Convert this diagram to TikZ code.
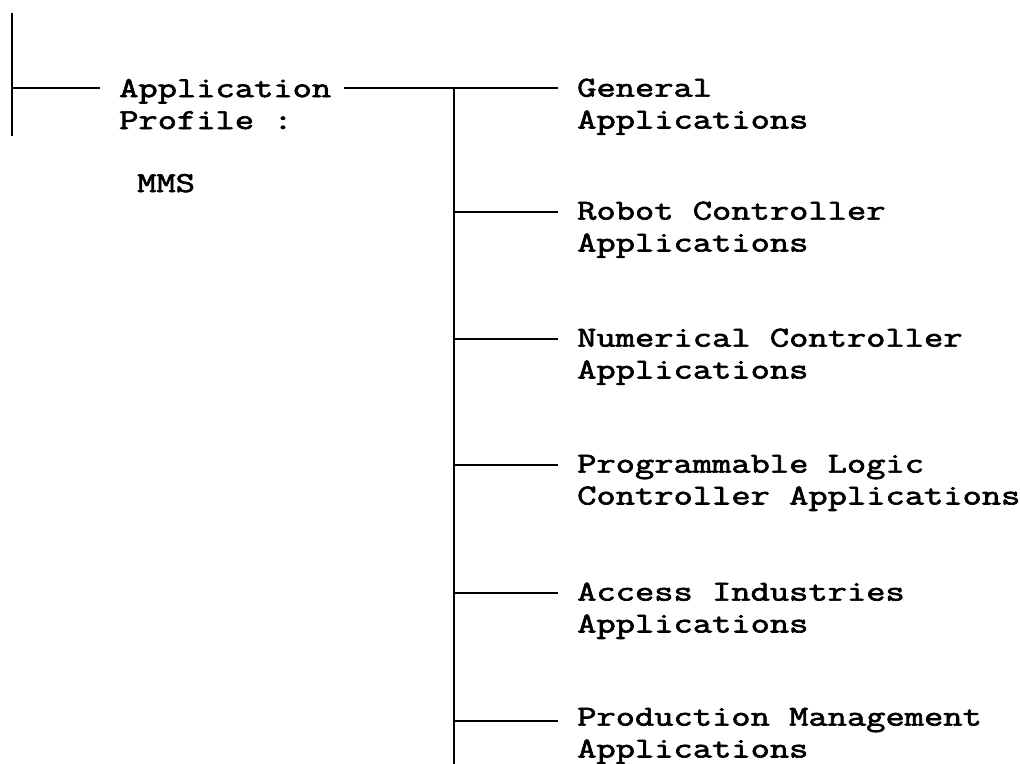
\documentclass[tikz,border=0pt]{standalone}
\usepackage{fontspec}
\newfontfamily\cour{Latin Modern Mono}[FakeStretch=1.295,FakeBold=2.3]
\usetikzlibrary{calc}
\begin{document}
\begin{tikzpicture}[x=1bp,y=-1bp,
  lbl/.style={anchor=base west,inner sep=0pt,align=left,
    font=\cour\fontsize{29}{32}\selectfont},
  wire/.style={line width=2.6bp,line cap=butt}]
\useasboundingbox (0,0) rectangle (1020,764);
% left part
\node[lbl] (app) at (119,97+32) {Application\\Profile :};
\node[lbl] (mms) at (137,192) {MMS};
\coordinate (ltop) at (12,13);
\coordinate (lbot) at (12,136);
\coordinate (ljn) at (12,88);
\draw[wire] (ltop) -- (lbot);
\draw[wire] (ljn) -- ($(ljn -| app.west)+(-19,0)$);
% trunk
\coordinate (b1) at (454,88);
\coordinate (b2) at (454,212);
\coordinate (b3) at (454,339);
\coordinate (b4) at (454,465);
\coordinate (b5) at (454,593);
\coordinate (b6) at (454,721);
\coordinate (bend) at (454,764);
\draw[wire] (b1) -- (bend);
\draw[wire] ($(b1 -| app.east)+(13,0)$) -- (b1);
% children
\node[lbl] (c1) at (577,96.5+32) {General\\Applications};
\node[lbl] (c2) at (577,219.5+32) {Robot Controller\\Applications};
\node[lbl] (c3) at (577,346.5+32) {Numerical Controller\\Applications};
\node[lbl] (c4) at (577,472.5+32) {Programmable Logic\\Controller Applications};
\node[lbl] (c5) at (577,600.5+32) {Access Industries\\Applications};
\node[lbl] (c6) at (577,728.5+29) {Production Management\\Applications};
\foreach \i in {1,...,6}{
  \draw[wire] (b\i) -- ($(b\i -| c\i.west)+(-19,0)$);
}
\end{tikzpicture}
\end{document}
